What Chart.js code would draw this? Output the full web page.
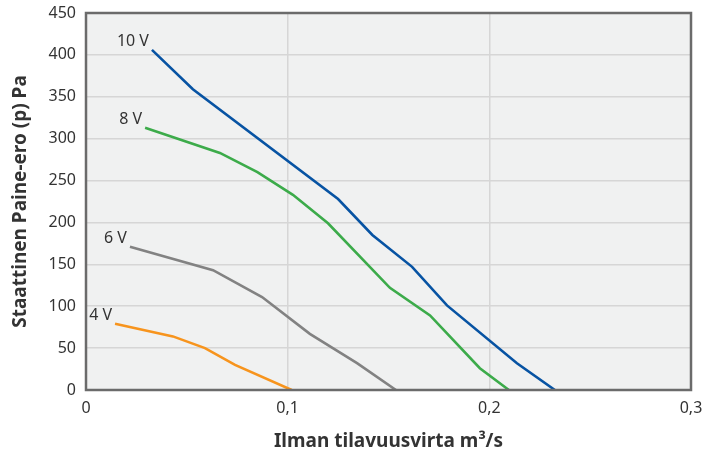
<!DOCTYPE html>
<html><head><meta charset="utf-8">
<script src="https://cdn.jsdelivr.net/npm/chart.js@4/dist/chart.umd.min.js"></script>
<style>html,body{margin:0;padding:0;background:#fff}#w{width:704px;height:457px}</style>
</head><body><div id="w"><canvas id="c"></canvas></div>
<script>
const seriesNames = ['10 V', '8 V', '6 V', '4 V'];
const seriesColors = ['#0753a3', '#3cab4a', '#828282', '#f7941d'];
const flow10 = [0.0327, 0.053, 0.125, 0.142, 0.1617, 0.179, 0.2137, 0.2325];
const pres10 = [406, 359, 228, 185, 147, 101, 32, 0];
const flow8 = [0.0293, 0.0664, 0.085, 0.1026, 0.12, 0.1507, 0.1706, 0.1953, 0.2097];
const pres8 = [313, 283, 260, 233, 199, 122, 89, 26, 0];
const flow6 = [0.0218, 0.063, 0.0873, 0.111, 0.1344, 0.1537];
const pres6 = [171, 143, 111, 67, 32, 0];
const flow4 = [0.0144, 0.0431, 0.059, 0.0739, 0.102];
const pres4 = [79, 64, 50, 30, 0];
const xTicks = [0, 0.1, 0.2, 0.3];
const yTicks = [0, 50, 100, 150, 200, 250, 300, 350, 400, 450];
const xTitle = 'Ilman tilavuusvirta m³/s';
const yTitle = 'Staattinen Paine-ero (p) Pa';

const flows = [flow10, flow8, flow6, flow4];
const press = [pres10, pres8, pres6, pres4];
const FONT = "'Noto Sans', sans-serif";

const datasets = seriesNames.map((n, i) => ({
  label: n,
  data: flows[i].map((x, j) => ({x: x, y: press[i][j]})),
  borderColor: seriesColors[i],
  backgroundColor: seriesColors[i],
  borderWidth: 2.6,
  pointRadius: 0,
  showLine: true,
  tension: 0
}));

const bgPlugin = {
  id: 'bg',
  beforeDraw(chart) {
    const {ctx, chartArea: a} = chart;
    ctx.save();
    ctx.fillStyle = '#f0f1f1';
    ctx.fillRect(a.left, a.top, a.right - a.left, a.bottom - a.top);
    ctx.restore();
  },
  afterDatasetsDraw(chart) {
    const {ctx, chartArea: a, scales} = chart;
    ctx.save();
    ctx.strokeStyle = '#6b6b6b';
    ctx.lineWidth = 2.5;
    ctx.strokeRect(a.left, a.top, a.right - a.left, a.bottom - a.top);
    ctx.fillStyle = '#333';
    ctx.font = "16px " + FONT;
    ctx.textAlign = 'right';
    ctx.textBaseline = 'alphabetic';
    chart.data.datasets.forEach(ds => {
      const p = ds.data[0];
      const px = scales.x.getPixelForValue(p.x);
      const py = scales.y.getPixelForValue(p.y);
      ctx.fillText(ds.label, px - 3, py - 4);
    });
    ctx.restore();
  }
};

new Chart(document.getElementById('c'), {
  type: 'scatter',
  data: {datasets},
  options: {
    responsive: true,
    maintainAspectRatio: false,
    animation: false,
    layout: {padding: {left: 0, right: 13, top: 13, bottom: 0}},
    plugins: {legend: {display: false}, tooltip: {enabled: false}},
    scales: {
      x: {
        type: 'linear', min: 0, max: 0.3,
        afterBuildTicks(s) { s.ticks = xTicks.map(v => ({value: v})); },
        afterFit(s) { s.height = 67; s.paddingLeft = 0; s.paddingRight = 0; },
        grid: {color: '#d6d6d6', lineWidth: 1.5, drawTicks: false},
        border: {display: false},
        ticks: {
          padding: 9, color: '#333', font: {family: FONT, size: 16},
          callback: v => v === 0 ? '0' : v.toFixed(1).replace('.', ',')
        },
        title: {display: true, text: xTitle, color: '#333',
          font: {family: FONT, size: 19, weight: 'bold'}, padding: {top: 0, bottom: 4}}
      },
      y: {
        type: 'linear', min: 0, max: 450,
        afterBuildTicks(s) { s.ticks = yTicks.map(v => ({value: v})); },
        afterFit(s) { s.width = 86; s.paddingTop = 0; s.paddingBottom = 0; },
        grid: {color: '#d6d6d6', lineWidth: 1.5, drawTicks: false},
        border: {display: false},
        ticks: {padding: 10, color: '#333', font: {family: FONT, size: 16}},
        title: {display: true, text: yTitle, color: '#333',
          font: {family: FONT, size: 19, weight: 'bold'}, padding: {top: 9, bottom: 0}}
      }
    }
  },
  plugins: [bgPlugin]
});
</script>
</body></html>
